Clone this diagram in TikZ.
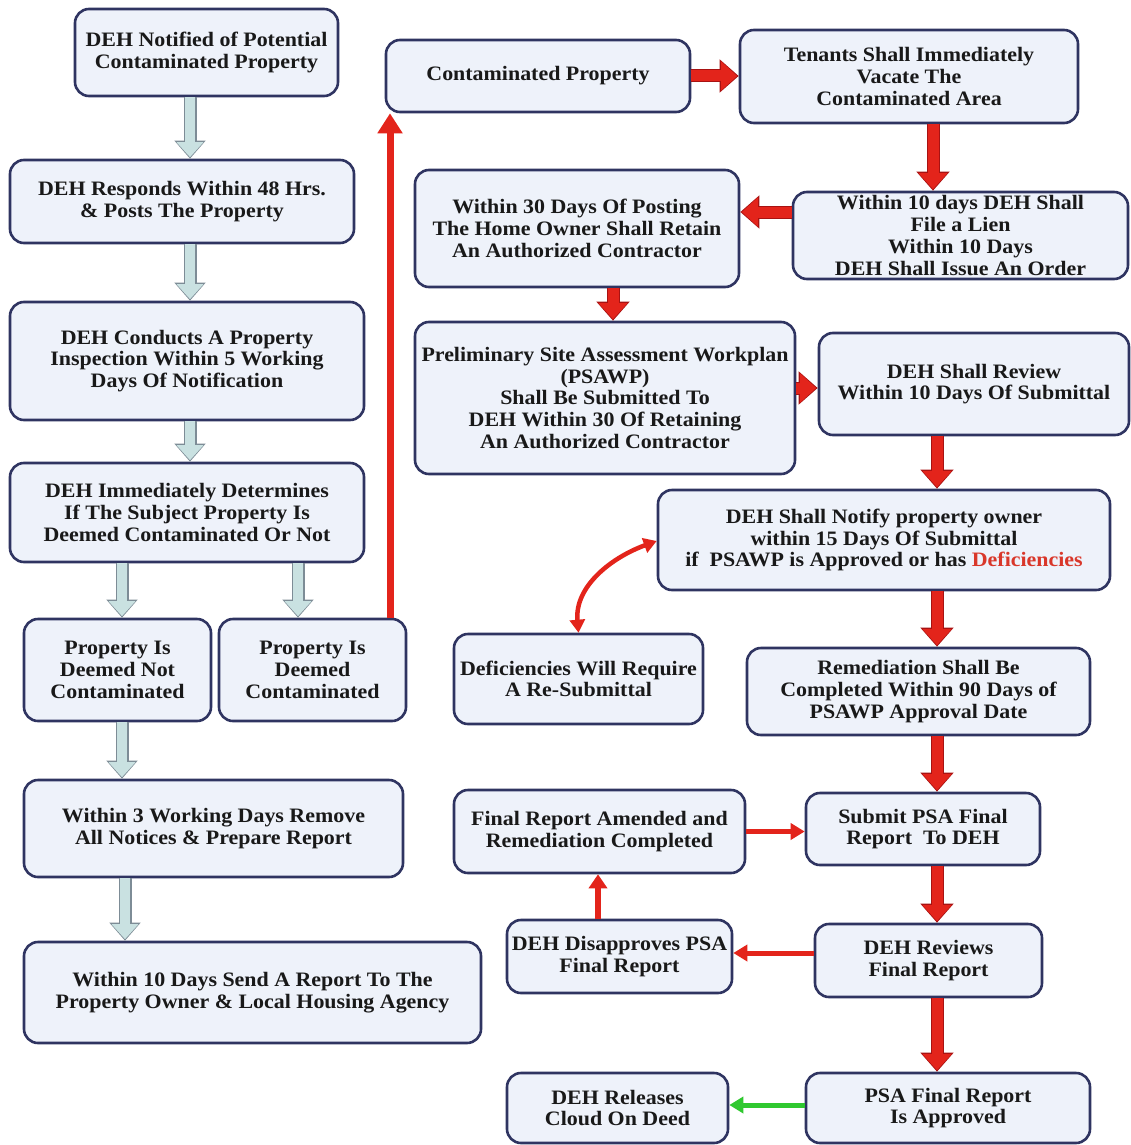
\documentclass[tikz,border=0pt]{standalone}
\usepackage{fontspec}
\setmainfont{Liberation Serif}[FakeStretch=1.07]
\usetikzlibrary{arrows.meta,calc}
\definecolor{boxfill}{HTML}{EEF2FA}
\definecolor{boxedge}{HTML}{2F3461}
\definecolor{bafill}{HTML}{C9E1E1}
\definecolor{baedge}{HTML}{7D8C96}
\definecolor{redA}{HTML}{E3241B}
\definecolor{redE}{HTML}{A81212}
\definecolor{greenA}{HTML}{2FC82F}
\definecolor{defred}{HTML}{D9372A}
\begin{document}
\begin{tikzpicture}[x=1pt,y=-1pt,
  box/.style={draw=boxedge, line width=2.6pt, fill=boxfill, rounded corners=14pt,
    align=center, inner sep=0pt, text=black!90,
    font=\bfseries\fontsize{20.5}{21.7}\selectfont},
  bluearrow/.style={draw=bafill, line width=10pt, shorten >=1.5pt,
    -{Triangle[length=15pt,width=26pt]},
    preaction={draw=baedge, line width=13pt, shorten >=0pt,
      -{Triangle[length=18pt,width=30pt]}}},
  redarrow/.style={draw=redA, line width=11pt, shorten >=1.5pt,
    -{Triangle[length=16pt,width=28pt]},
    preaction={draw=redE, line width=13pt, shorten >=0pt,
      -{Triangle[length=19pt,width=32pt]}}},
  longred/.style={draw=redA, line width=7pt, -{Triangle[length=20pt,width=24pt]}},
  thinred/.style={draw=redA, line width=5pt, -{Triangle[length=14pt,width=16pt]}},
  medred/.style={draw=redA, line width=6pt, -{Triangle[length=14pt,width=18pt]}},
  greenarrow/.style={draw=greenA, line width=5pt, -{Triangle[length=14pt,width=16pt]}},
  curvered/.style={draw=redA, line width=4.5pt, {Triangle[length=13pt,width=15pt]}-{Triangle[length=13pt,width=15pt]}}
]
\useasboundingbox[fill=white] (0,0) rectangle (1130,1145);

% left column
\node[box, minimum width=263pt, minimum height=87pt] (n1) at (206.5,52.5) {DEH Notified of Potential\\Contaminated Property};
\node[box, minimum width=344pt, minimum height=83pt] (n2) at (182,201.5) {DEH Responds Within 48 Hrs.\\\& Posts The Property};
\node[box, minimum width=354pt, minimum height=118pt] (n3) at (187,361) {DEH Conducts A Property\\Inspection Within 5 Working\\Days Of Notification};
\node[box, minimum width=354pt, minimum height=99pt] (n4) at (187,512.5) {DEH Immediately Determines\\If The Subject Property Is\\Deemed Contaminated Or Not};
\node[box, minimum width=187pt, minimum height=102pt] (n5) at (117.5,670) {Property Is\\Deemed Not\\Contaminated};
\node[box, minimum width=187pt, minimum height=102pt] (n6) at (312.5,670) {Property Is\\Deemed\\Contaminated};
\node[box, minimum width=379pt, minimum height=97pt] (n7) at (213.5,828.5) {Within 3 Working Days Remove\\All Notices \& Prepare Report};
\node[box, minimum width=457pt, minimum height=101pt] (n8) at (252.5,992.5) {Within 10 Days Send A Report To The\\Property Owner \& Local Housing Agency};

% right part
\node[box, minimum width=304pt, minimum height=72pt] (n9) at (538,76) {Contaminated Property};
\node[box, minimum width=338pt, minimum height=93pt] (n10) at (909,76.5) {Tenants Shall Immediately\\Vacate The\\Contaminated Area};
\node[box, minimum width=335pt, minimum height=87pt] (n11) at (960.5,235.5) {Within 10 days DEH Shall\\File a Lien\\Within 10 Days\\DEH Shall Issue An Order};
\node[box, minimum width=324pt, minimum height=117pt] (n12) at (577,228.5) {Within 30 Days Of Posting\\The Home Owner Shall Retain\\An Authorized Contractor};
\node[box, minimum width=380pt, minimum height=152pt] (n13) at (605,398) {Preliminary Site Assessment Workplan\\(PSAWP)\\Shall Be Submitted To\\DEH Within 30 Of Retaining\\An Authorized Contractor};
\node[box, minimum width=310pt, minimum height=102pt] (n14) at (974,384) {DEH Shall Review\\Within 10 Days Of Submittal};
\node[box, minimum width=452pt, minimum height=100pt] (n15) at (884,540) {DEH Shall Notify property owner\\within 15 Days Of Submittal\\if\ \ PSAWP is Approved or has \textcolor{defred}{Deficiencies}};
\node[box, minimum width=249pt, minimum height=90pt] (n16) at (578.5,679) {Deficiencies Will Require\\A Re-Submittal};
\node[box, minimum width=343pt, minimum height=87pt] (n17) at (918.5,691.5) {Remediation Shall Be\\Completed Within 90 Days of\\PSAWP Approval Date};
\node[box, minimum width=234pt, minimum height=72pt] (n18) at (923,829) {Submit PSA Final\\Report\ \ To DEH};
\node[box, minimum width=291pt, minimum height=83pt] (n19) at (599.5,831.5) {Final Report Amended and\\Remediation Completed};
\node[box, minimum width=227pt, minimum height=73pt] (n20) at (928.5,960.5) {DEH Reviews\\Final Report};
\node[box, minimum width=225pt, minimum height=73pt] (n21) at (619.5,956.5) {DEH Disapproves PSA\\Final Report};
\node[box, minimum width=284pt, minimum height=70pt] (n22) at (948,1108) {PSA Final Report\\Is Approved};
\node[box, minimum width=221pt, minimum height=70pt] (n23) at (617.5,1108) {DEH Releases\\Cloud On Deed};

% light blue block arrows
\draw[bluearrow] ([xshift=-16.5pt]n1.south) -- ([xshift=-16.5pt]n1.south |- n2.north);
\draw[bluearrow] ([xshift=8pt]n2.south) -- ([xshift=8pt]n2.south |- n3.north);
\draw[bluearrow] ([xshift=3pt]n3.south) -- ([xshift=3pt]n3.south |- n4.north);
\draw[bluearrow] ([xshift=-65pt]n4.south) -- ([xshift=-65pt]n4.south |- n5.north);
\draw[bluearrow] ([xshift=111pt]n4.south) -- ([xshift=111pt]n4.south |- n6.north);
\draw[bluearrow] ([xshift=4.5pt]n5.south) -- ([xshift=4.5pt]n5.south |- n7.north);
\draw[bluearrow] ([xshift=-88.5pt]n7.south) -- ([xshift=-88.5pt]n7.south |- n8.north);

% red arrows
\draw[longred] ([xshift=77.5pt]n6.north) -- ([xshift=77.5pt]n6.north |- n9.south);
\draw[redarrow] (n9.east) -- (n9.east -| n10.west);
\draw[redarrow] ([xshift=24pt]n10.south) -- ([xshift=24pt]n10.south |- n11.north);
\draw[redarrow] ([yshift=23.5pt]n11.west) -- ([yshift=23.5pt]n11.west -| n12.east);
\draw[redarrow] ([xshift=36pt]n12.south) -- ([xshift=36pt]n12.south |- n13.north);
\draw[redarrow] ([yshift=10pt]n13.east) -- ([yshift=10pt]n13.east -| n14.west);
\draw[redarrow] ([xshift=-37pt]n14.south) -- ([xshift=-37pt]n14.south |- n15.north);
\draw[curvered] (n16.north) to[out=95, in=200] ([yshift=-1pt]n15.west);
\draw[redarrow] ([xshift=53pt]n15.south) -- ([xshift=53pt]n15.south |- n17.north);
\draw[redarrow] ([xshift=18.5pt]n17.south) -- ([xshift=18.5pt]n17.south |- n18.north);
\draw[thinred] (n19.east) -- (n19.east -| n18.west);
\draw[redarrow] ([xshift=14pt]n18.south) -- ([xshift=14pt]n18.south |- n20.north);
\draw[thinred] ([yshift=7.5pt]n20.west) -- ([yshift=7.5pt]n20.west -| n21.east);
\draw[medred] ([xshift=-21.5pt]n21.north) -- ([xshift=-21.5pt]n21.north |- n19.south);
\draw[redarrow] ([xshift=8.5pt]n20.south) -- ([xshift=8.5pt]n20.south |- n22.north);
\draw[greenarrow] ([yshift=3pt]n22.west) -- ([yshift=3pt]n22.west -| n23.east);
\end{tikzpicture}
\end{document}
